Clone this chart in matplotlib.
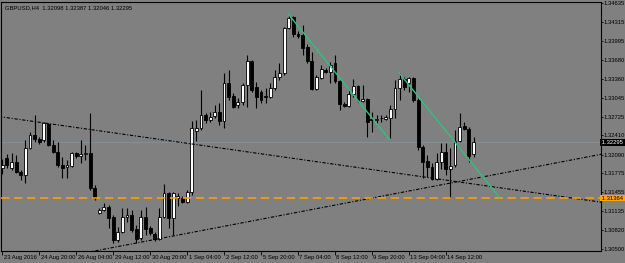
import matplotlib
matplotlib.use("Agg")
import matplotlib.pyplot as plt
import numpy as np
from matplotlib.transforms import ScaledTranslation

plt.rcParams['font.family'] = ['Liberation Sans']

# ---- data (GBPUSD H4) ----
opens = [1.31864, 1.32032, 1.31864, 1.31965, 1.31797, 1.31746, 1.32200, 1.32418, 1.32351, 1.32334,
         1.32603, 1.32250, 1.32133, 1.31914, 1.31881, 1.31897, 1.32116, 1.32065, 1.32099, 1.32116,
         1.31528, 1.31108, 1.31159, 1.31209, 1.31041, 1.30655, 1.30789, 1.31041, 1.31075, 1.30840,
         1.30689, 1.31041, 1.30856, 1.30756, 1.30672, 1.31041, 1.31444, 1.31024, 1.31360, 1.31360,
         1.31293, 1.31461, 1.32485, 1.32536, 1.32754, 1.32670, 1.32737, 1.32804, 1.32653, 1.33291,
         1.33073, 1.32922, 1.32972, 1.33258, 1.33661, 1.33224, 1.33140, 1.33073, 1.33056, 1.33208,
         1.33392, 1.33459, 1.34215, 1.34400, 1.34115, 1.34098, 1.33896, 1.33661, 1.33191, 1.33375,
         1.33510, 1.33476, 1.33627, 1.33325, 1.32939, 1.32905, 1.33107, 1.33241, 1.32989, 1.33023,
         1.32687, 1.32670, 1.32704, 1.32687, 1.32704, 1.32855, 1.33208, 1.33359, 1.33291, 1.33375,
         1.33006, 1.32216, 1.31981, 1.31881, 1.31679, 1.31965, 1.32133, 1.31847, 1.31914, 1.32317,
         1.32569, 1.32519, 1.32098]
highs = [1.32015, 1.32099, 1.32116, 1.32082, 1.31830, 1.32334, 1.32468, 1.32754, 1.32385, 1.32636,
         1.32620, 1.32334, 1.32300, 1.32049, 1.31998, 1.32133, 1.32133, 1.32334, 1.32250, 1.32788,
         1.31579, 1.31192, 1.31276, 1.31243, 1.31075, 1.30873, 1.31192, 1.31192, 1.31159, 1.30907,
         1.31159, 1.31209, 1.30890, 1.30789, 1.31192, 1.31595, 1.31461, 1.31461, 1.31444, 1.31394,
         1.31495, 1.32653, 1.32670, 1.33174, 1.32788, 1.32804, 1.32922, 1.32956, 1.33459, 1.33510,
         1.33124, 1.33040, 1.33291, 1.33762, 1.33678, 1.33308, 1.33174, 1.33208, 1.33291, 1.33510,
         1.33627, 1.34232, 1.34434, 1.34417, 1.34165, 1.34266, 1.33947, 1.33812, 1.33426, 1.33594,
         1.33543, 1.33644, 1.33762, 1.33342, 1.32972, 1.33174, 1.33359, 1.33258, 1.33258, 1.33040,
         1.32804, 1.32754, 1.32754, 1.32754, 1.32922, 1.33342, 1.33459, 1.33392, 1.33392, 1.33392,
         1.33040, 1.32250, 1.32082, 1.31948, 1.32116, 1.32284, 1.32284, 1.32200, 1.32502, 1.32788,
         1.32636, 1.32552, 1.32387]
lows = [1.31763, 1.31864, 1.31830, 1.31780, 1.31662, 1.31612, 1.32183, 1.32300, 1.32267, 1.32300,
        1.32233, 1.32116, 1.31881, 1.31696, 1.31696, 1.31881, 1.32032, 1.31948, 1.31998, 1.31495,
        1.31327, 1.31092, 1.31142, 1.30856, 1.30605, 1.30622, 1.30772, 1.30957, 1.30789, 1.30605,
        1.30655, 1.30739, 1.30739, 1.30638, 1.30655, 1.31024, 1.30856, 1.30739, 1.31226, 1.31276,
        1.31276, 1.31411, 1.32317, 1.32502, 1.32620, 1.32636, 1.32704, 1.32586, 1.32536, 1.33006,
        1.32872, 1.32872, 1.32922, 1.32888, 1.33140, 1.32872, 1.32956, 1.32956, 1.33040, 1.33174,
        1.33342, 1.33426, 1.34199, 1.34064, 1.34047, 1.33762, 1.33627, 1.33174, 1.33174, 1.33359,
        1.33459, 1.33291, 1.33291, 1.32838, 1.32888, 1.32888, 1.33056, 1.32972, 1.32972, 1.32385,
        1.32468, 1.32620, 1.32636, 1.32670, 1.32368, 1.32704, 1.33006, 1.33174, 1.33140, 1.32972,
        1.32166, 1.31696, 1.31713, 1.31662, 1.31662, 1.31847, 1.31746, 1.31360, 1.31881, 1.32300,
        1.32502, 1.31965, 1.32046]
closes = [1.31914, 1.31914, 1.31965, 1.31797, 1.31746, 1.32200, 1.32418, 1.32351, 1.32300, 1.32620,
          1.32250, 1.32133, 1.31914, 1.31864, 1.31914, 1.32116, 1.32065, 1.32099, 1.32116, 1.31528,
          1.31360, 1.31159, 1.31209, 1.31024, 1.30655, 1.30789, 1.31041, 1.31075, 1.30823, 1.30672,
          1.31041, 1.30840, 1.30772, 1.30672, 1.31041, 1.31444, 1.31024, 1.31444, 1.31394, 1.31293,
          1.31461, 1.32536, 1.32536, 1.32754, 1.32670, 1.32720, 1.32804, 1.32653, 1.33291, 1.33056,
          1.32888, 1.32972, 1.33258, 1.33661, 1.33174, 1.33056, 1.33006, 1.33056, 1.33208, 1.33392,
          1.33459, 1.34215, 1.34383, 1.34115, 1.34081, 1.33880, 1.33661, 1.33191, 1.33392, 1.33527,
          1.33476, 1.33594, 1.33325, 1.32939, 1.32905, 1.33107, 1.33241, 1.33006, 1.33023, 1.32636,
          1.32670, 1.32687, 1.32700, 1.32720, 1.32855, 1.33208, 1.33359, 1.33224, 1.33375, 1.33006,
          1.32216, 1.31965, 1.31881, 1.31679, 1.31965, 1.32133, 1.31847, 1.31897, 1.32317, 1.32552,
          1.32519, 1.32065, 1.32295]

time_labels = ["23 Aug 2016", "24 Aug 20:00", "26 Aug 04:00", "29 Aug 12:00", "30 Aug 20:00",
               "1 Sep 04:00", "2 Sep 12:00", "5 Sep 20:00", "7 Sep 04:00", "8 Sep 12:00",
               "9 Sep 20:00", "13 Sep 04:00", "14 Sep 12:00"]
time_label_bars = [0, 8, 16, 24, 32, 40, 48, 56, 64, 72, 80, 88, 96]

price_ticks = [1.34635, 1.34315, 1.33995, 1.33680, 1.33360, 1.33045, 1.32725,
               1.32410, 1.32090, 1.31775, 1.31455, 1.31135, 1.30820, 1.30500]

bid_price = 1.32295
orange_level = 1.31360
orange_label = "1.31364"
title_text = "GBPUSD,H4  1.32098 1.32387 1.32046 1.32295"

# trend lines: (bar, price) pairs
black_line1 = [(-0.5, 1.32726), (129.4, 1.31293)]
black_line2 = [(21.15, 1.30488), (129.4, 1.32091)]
green_line1 = [(61.9, 1.34450), (83.7, 1.32351)]
green_line2 = [(85.87, 1.33464), (107.6, 1.31372)]

# ---- figure ----
W, H = 625, 263
fig = plt.figure(figsize=(W / 100, H / 100), dpi=100, facecolor='#808080')
ax = fig.add_axes([1.5 / W, 1 - 250.5 / H, 599 / W, 249 / H])
ax.set_facecolor('#808080')

xs = np.arange(len(opens))
o = np.array(opens); h = np.array(highs); l = np.array(lows); c = np.array(closes)
up = c >= o

ax.vlines(xs, l, h, color='black', linewidth=0.8, zorder=2)
body_bottom = np.minimum(o, c)
body_h = np.abs(c - o)
ax.bar(xs[up], body_h[up], bottom=body_bottom[up], width=0.62, color='white',
       edgecolor='black', linewidth=0.6, zorder=3)
ax.bar(xs[~up], body_h[~up], bottom=body_bottom[~up], width=0.62, color='black',
       edgecolor='black', linewidth=0.6, zorder=3)
doji = body_h < 0.00004
ax.hlines(body_bottom[doji], xs[doji] - 0.31, xs[doji] + 0.31, color='black', linewidth=0.8, zorder=3)

xmin, xmax = -0.17, 129.48
ax.set_xlim(xmin, xmax)
ax.set_ylim(1.30479, 1.34660)


def ray(pts, **kw):
    (x0, y0), (x1, y1) = pts
    s = (y1 - y0) / (x1 - x0)
    xx = np.array([xmin - 5, xmax + 5])
    ax.plot(xx, y0 + s * (xx - x0), **kw)


ray(black_line1, color='black', linewidth=0.8, dashes=(3, 1.5, 1, 1.5), zorder=4)
ray(black_line2, color='black', linewidth=0.8, dashes=(3, 1.5, 1, 1.5), zorder=4)
for g in (green_line1, green_line2):
    ax.plot([g[0][0], g[1][0]], [g[0][1], g[1][1]], color='#2ec27e', linewidth=1.0, zorder=5)

ax.axhline(bid_price, color='#7a93a8', linewidth=0.6, zorder=1)
ax.axhline(orange_level, color='#ffa500', linewidth=1.1, dashes=(5.5, 3), zorder=4)

for sp in ax.spines.values():
    sp.set_color('black')
    sp.set_linewidth(0.8)

fs = 4.2
ax.yaxis.tick_right()
ax.set_yticks(price_ticks)
ax.set_yticklabels([f"{p:.5f}" for p in price_ticks], fontsize=fs)
ax.tick_params(axis='y', length=1.5, width=0.6, pad=0.6, colors='black')
ax.set_xticks(time_label_bars)
ax.set_xticklabels(time_labels, fontsize=fs, ha='left')
ax.tick_params(axis='x', length=3, width=0.6, pad=0.3, colors='black')

offs = ScaledTranslation(1.5 / 100, 0, fig.dpi_scale_trans)
for lab in ax.get_xticklabels():
    lab.set_transform(lab.get_transform() + offs)

# highlighted price labels
ax.text(1.0, bid_price, " " + f"{bid_price:.5f}" + " ", transform=ax.get_yaxis_transform(),
        fontsize=fs, color='white', va='center', ha='left',
        bbox=dict(boxstyle='square,pad=0.15', fc='black', ec='none'), zorder=6, clip_on=False)
ax.text(1.0, orange_level, " " + orange_label + " ", transform=ax.get_yaxis_transform(),
        fontsize=fs, color='black', va='center', ha='left',
        bbox=dict(boxstyle='square,pad=0.15', fc='#ffa500', ec='none'), zorder=6, clip_on=False)

ax.text(3.5 / 599, 1 - 4 / 249, title_text, transform=ax.transAxes, fontsize=fs,
        color='black', va='top', ha='left', zorder=6)

fig.savefig("out.png", dpi=100, facecolor=fig.get_facecolor())
